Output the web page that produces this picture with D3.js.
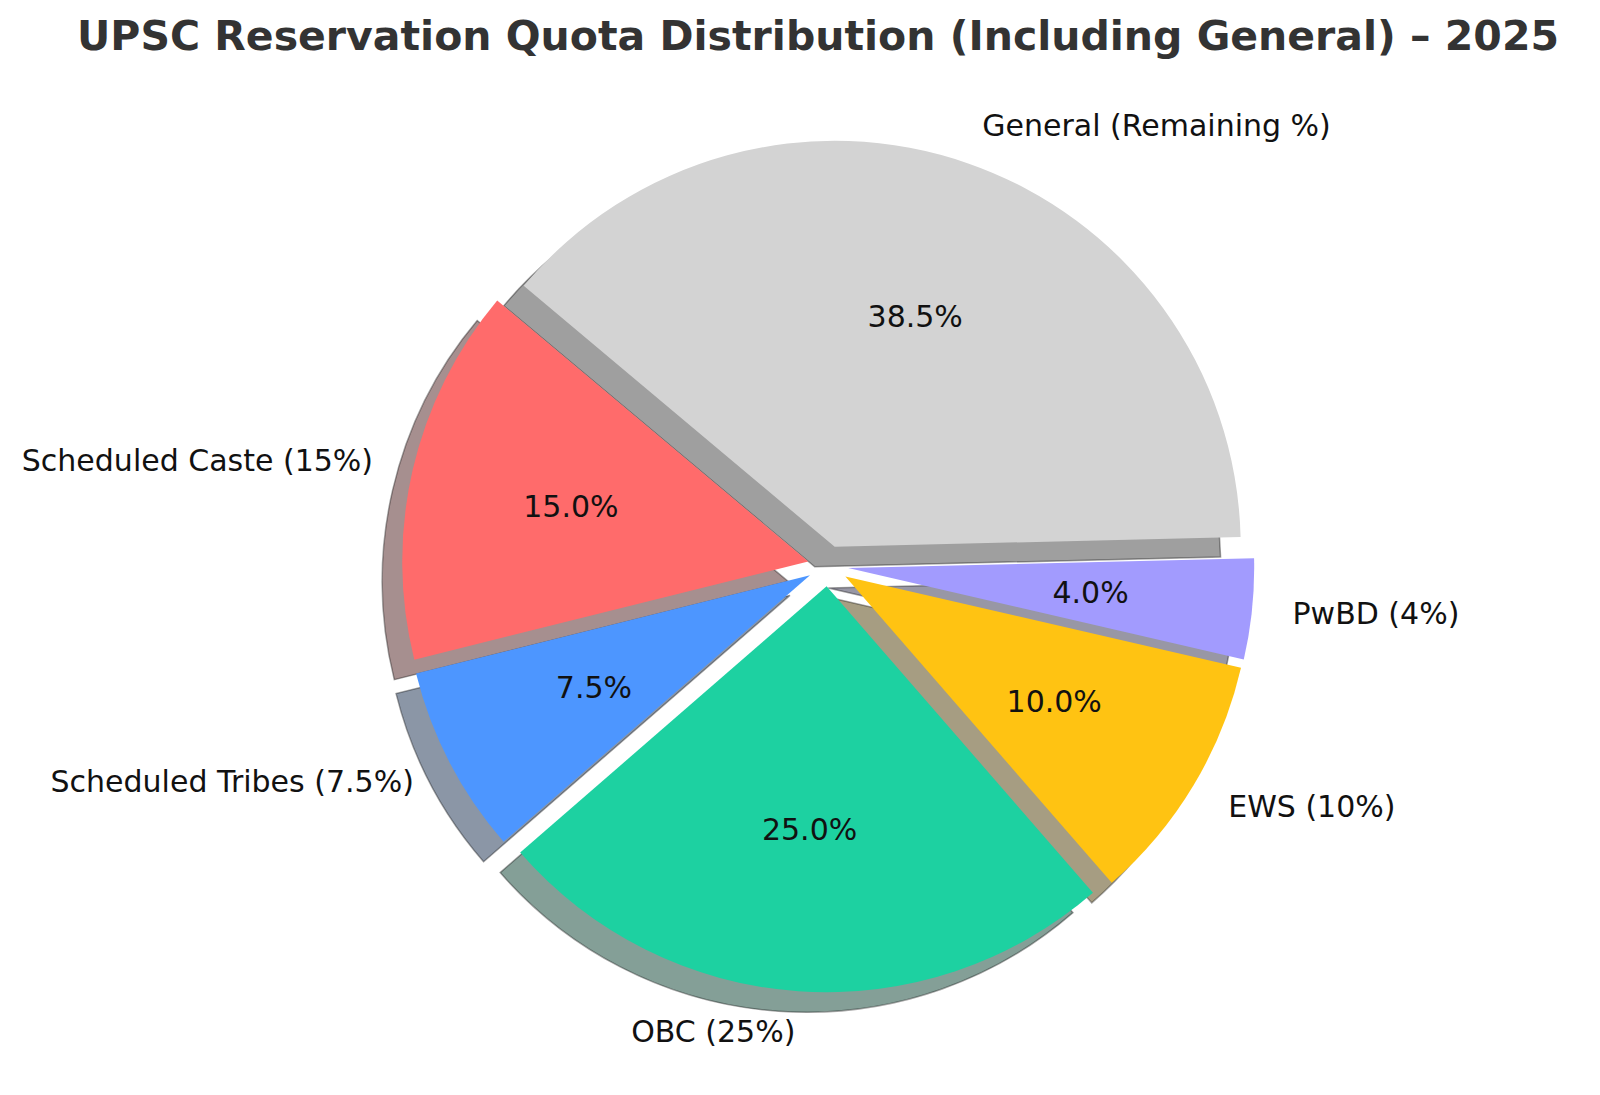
<!DOCTYPE html>
<html>
<head>
<meta charset="utf-8">
<script src="https://cdn.jsdelivr.net/npm/d3@7"></script>
<style>
  body { margin: 0; background: #fff; }
  text { font-family: "DejaVu Sans", sans-serif; }
</style>
</head>
<body>
<div id="chart"></div>
<script>
// chart data
const categories = ['Scheduled Caste (15%)', 'Scheduled Tribes (7.5%)', 'OBC (25%)', 'EWS (10%)', 'PwBD (4%)', 'General (Remaining %)'];
const values = [15, 7.5, 25, 10, 4, 38.5];
const colors = ['#ff6b6b', '#4d96ff', '#1dd1a1', '#ffc312', '#a29bfe', '#d3d3d3'];
const explode = [0.05, 0.05, 0.05, 0.05, 0.05, 0.05];
const title = 'UPSC Reservation Quota Distribution (Including General) – 2025';

const width = 1600, height = 1095;
const cx = 828, cy = 566, radius = 406;
const startAngle = 140; // degrees, counter-clockwise like matplotlib

const svg = d3.select('#chart').append('svg')
    .attr('width', width)
    .attr('height', height);

svg.append('text')
    .attr('x', 818).attr('y', 50)
    .attr('text-anchor', 'middle')
    .attr('font-size', 41).attr('font-weight', 'bold')
    .attr('fill', '#333')
    .text(title);

// matplotlib angles (ccw from +x) -> d3 arc angles (cw from 12 o'clock)
const total = d3.sum(values);
let acc = startAngle;
const slices = values.map((v, i) => {
  const a0 = acc, a1 = acc + v / total * 360;
  acc = a1;
  const mid = (a0 + a1) / 2 * Math.PI / 180;
  return {
    i, v,
    start: (90 - a1) * Math.PI / 180,
    end: (90 - a0) * Math.PI / 180,
    mid,
    dx: explode[i] * radius * Math.cos(mid),
    dy: -explode[i] * radius * Math.sin(mid)
  };
});

const arc = d3.arc().innerRadius(0).outerRadius(radius);

// shadows: 0.3 * face colour at half opacity, shifted left/down
const shade = c => { const k = d3.rgb(c); return d3.rgb(k.r * 0.3, k.g * 0.3, k.b * 0.3); };
svg.append('g').selectAll('path')
  .data(slices).join('path')
    .attr('transform', d => `translate(${cx + d.dx - 20},${cy + d.dy + 20})`)
    .attr('d', d => arc({startAngle: d.start, endAngle: d.end}))
    .attr('fill', d => shade(colors[d.i]))
    .attr('fill-opacity', 0.5)
    .attr('stroke', '#000').attr('stroke-opacity', 0.35).attr('stroke-width', 1.5);

// wedges
svg.append('g').selectAll('path')
  .data(slices).join('path')
    .attr('transform', d => `translate(${cx + d.dx},${cy + d.dy})`)
    .attr('d', d => arc({startAngle: d.start, endAngle: d.end}))
    .attr('fill', d => colors[d.i]);

// outer labels
svg.append('g').selectAll('text')
  .data(slices).join('text')
    .attr('x', d => cx + d.dx + 1.1 * radius * Math.cos(d.mid))
    .attr('y', d => cy + d.dy - 1.1 * radius * Math.sin(d.mid))
    .attr('text-anchor', d => Math.cos(d.mid) >= 0 ? 'start' : 'end')
    .attr('dominant-baseline', 'central')
    .attr('font-size', 30).attr('fill', '#111')
    .text(d => categories[d.i]);

// percentage labels
svg.append('g').selectAll('text')
  .data(slices).join('text')
    .attr('x', d => cx + d.dx + 0.6 * radius * Math.cos(d.mid))
    .attr('y', d => cy + d.dy - 0.6 * radius * Math.sin(d.mid))
    .attr('text-anchor', 'middle')
    .attr('dominant-baseline', 'central')
    .attr('font-size', 30).attr('fill', '#111')
    .text(d => (d.v / total * 100).toFixed(1) + '%');
</script>
</body>
</html>
